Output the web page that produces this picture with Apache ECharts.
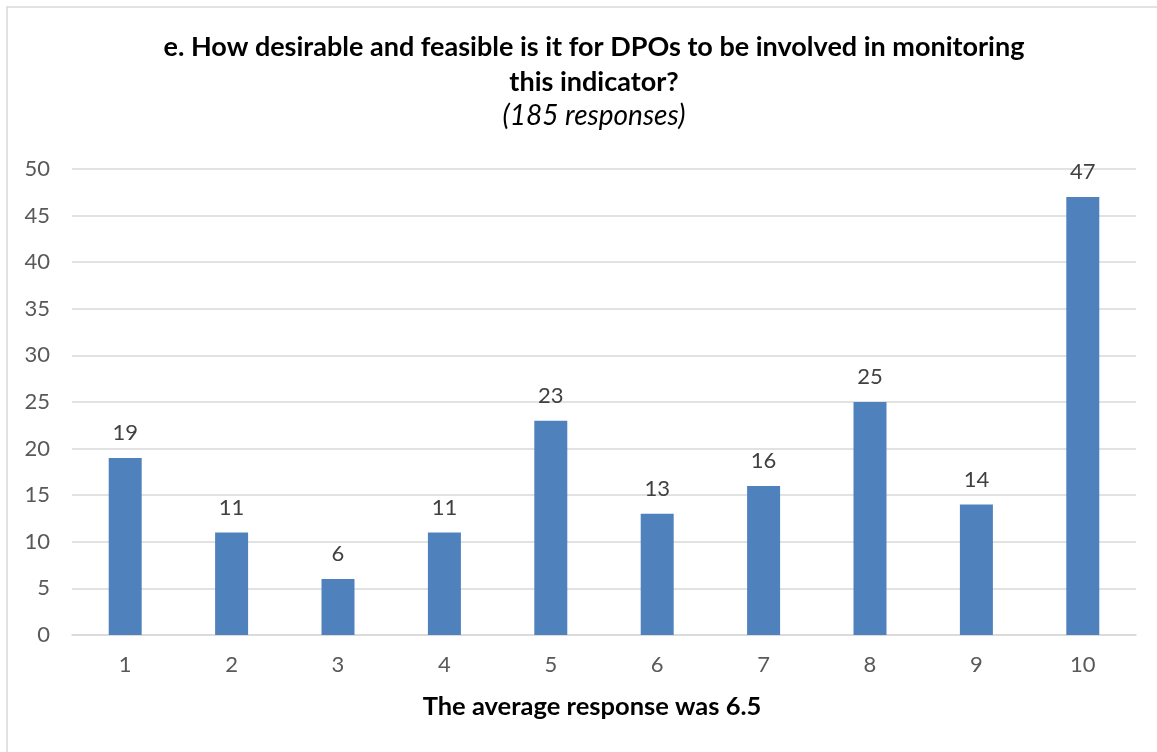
<!DOCTYPE html>
<html>
<head>
<meta charset="utf-8">
<script src="https://cdn.jsdelivr.net/npm/echarts@6/dist/echarts.min.js"></script>
<style>html,body{margin:0;padding:0;background:#fff;}#c{width:1157px;height:752px;}</style>
</head>
<body>
<div id="c"></div>
<script>
var categories = ['1','2','3','4','5','6','7','8','9','10'];
var counts = [19, 11, 6, 11, 23, 13, 16, 25, 14, 47];
var titleLine1 = 'e. How desirable and feasible is it for DPOs to be involved in monitoring';
var titleLine2 = 'this indicator?';
var subtitleText = '(185 responses)';
var xAxisTitle = 'The average response was 6.5';

var FONT = 'Lato, "Open Sans", sans-serif';
var chart = echarts.init(document.getElementById('c'));
function txt(s, x, y, font) {
  return {type: 'text', x: x, y: y,
    style: {text: s, font: font, fill: '#000', align: 'center', verticalAlign: 'middle'}};
}
chart.setOption({
  animation: false,
  backgroundColor: '#ffffff',
  graphic: [{
    type: 'rect', x: 7, y: 7, shape: {width: 1200, height: 800},
    style: {fill: 'none', stroke: '#d9d9d9', lineWidth: 1.5}, z: -1
  },
    txt(titleLine1, 594, 47, 'bold 27px ' + FONT),
    txt(titleLine2, 594, 82, 'bold 27px ' + FONT),
    txt(subtitleText, 594, 116, 'italic 28px ' + FONT),
    txt(xAxisTitle, 592, 707, 'bold 25.5px ' + FONT)
  ],
  grid: {left: 72, right: 21, top: 169, bottom: 117, containLabel: false},
  xAxis: {
    type: 'category', data: categories,
    axisLine: {lineStyle: {color: '#d9d9d9', width: 1.5}},
    axisTick: {show: false},
    axisLabel: {color: '#595959', fontSize: 22, fontFamily: FONT, margin: 19}
  },
  yAxis: {
    type: 'value', min: 0, max: 50, interval: 5,
    axisLine: {show: false}, axisTick: {show: false},
    splitLine: {lineStyle: {color: '#d9d9d9', width: 1.5}},
    axisLabel: {color: '#595959', fontSize: 22, fontFamily: FONT, margin: 22}
  },
  series: [{
    type: 'bar', data: counts, barWidth: 33,
    itemStyle: {color: '#4f81bd'},
    label: {show: true, position: 'top', distance: 14, color: '#404040', fontSize: 22, fontFamily: FONT}
  }]
});
</script>
</body>
</html>
